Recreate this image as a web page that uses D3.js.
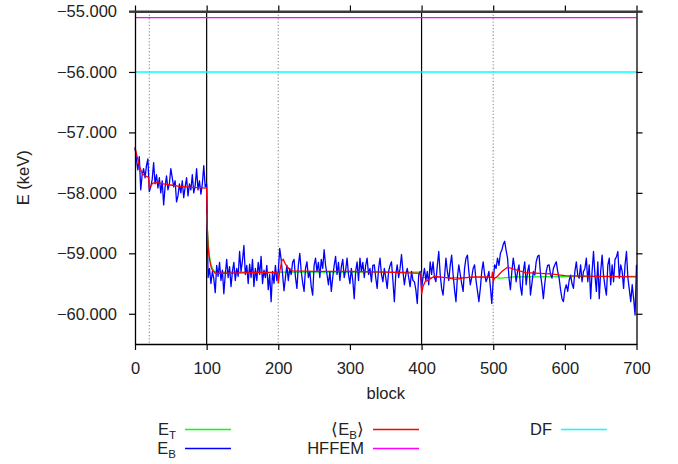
<!DOCTYPE html>
<html>
<head>
<meta charset="utf-8">
<script src="https://cdn.jsdelivr.net/npm/d3@7"></script>
<style>
body { margin: 0; background: #fff; }
text { font-family: "Liberation Sans", Arial, Helvetica, sans-serif; fill: #222; }
</style>
</head>
<body>
<svg id="chart" width="678" height="464"></svg>
<script>
// blocks are sampled every 2 for E_B
var blockStep = 2;
var blueE = [
  // 0 - 100
  -57.25, -57.45, -57.62, -57.40, -57.95, -57.70, -57.60, -57.75, -57.55, -57.44,
  -57.98, -57.90, -57.78, -57.50, -57.85, -57.70, -57.92, -57.75, -58.00, -57.80,
  -58.20, -57.90, -57.72, -57.95, -57.85, -57.60, -57.75, -57.90, -57.80, -58.15,
  -58.05, -57.85, -58.00, -57.80, -58.08, -57.90, -57.75, -58.05, -57.85, -57.95,
  -57.70, -58.00, -57.88, -57.60, -57.95, -57.80, -58.02, -57.85, -57.55, -57.90,
  -57.85,
  // 102 - 200
  -59.40, -59.25, -59.50, -59.30, -59.42, -59.65, -59.20, -59.38, -59.15, -59.45,
  -59.28, -59.67, -59.35, -59.10, -59.40, -59.22, -59.55, -59.30, -59.15, -59.45,
  -59.25, -59.38, -58.97, -59.30, -59.12, -58.87, -59.35, -59.20, -59.50, -59.18,
  -59.40, -59.10, -59.55, -59.25, -59.45, -59.15, -59.35, -59.05, -59.50, -59.28,
  -59.40, -59.20, -59.60, -59.35, -59.80, -59.30, -59.50, -59.20, -59.45, -59.30,
  // 202 - 300
  -58.92, -59.10, -59.35, -59.62, -59.40, -59.20, -59.45, -59.25, -59.35, -59.15,
  -59.10, -59.40, -59.58, -59.20, -59.00, -59.30, -59.48, -59.63, -59.25, -59.14,
  -59.40, -59.30, -59.55, -59.69, -59.20, -59.08, -59.30, -59.15, -59.40, -59.10,
  -59.25, -58.94, -59.20, -59.35, -59.52, -59.30, -59.63, -59.40, -59.20, -59.05,
  -59.35, -59.15, -59.45, -59.22, -59.10, -59.40, -59.28, -59.08, -59.35, -59.50,
  // 302 - 400
  -59.25, -59.45, -59.75, -59.30, -59.14, -59.45, -59.08, -59.30, -59.15, -59.40,
  -59.20, -59.08, -59.35, -59.25, -59.47, -59.20, -59.19, -59.40, -59.58, -59.25,
  -59.08, -59.35, -59.47, -59.25, -59.40, -59.58, -59.30, -59.20, -59.14, -59.45,
  -59.80, -59.35, -59.19, -59.40, -59.25, -59.02, -59.30, -59.52, -59.35, -59.25,
  -59.40, -59.55, -59.30, -59.45, -59.47, -59.60, -59.83, -59.36, -59.30, -59.58,
  // 402 - 500
  -59.40, -59.25, -59.45, -59.30, -59.52, -59.14, -59.35, -59.14, -59.40, -59.47,
  -59.20, -58.97, -59.35, -59.58, -59.69, -59.40, -59.08, -59.30, -59.45, -59.20,
  -59.03, -59.35, -59.60, -59.80, -59.40, -59.19, -59.35, -59.50, -59.63, -59.25,
  -59.08, -59.03, -59.30, -59.52, -59.40, -59.25, -59.19, -59.45, -59.62, -59.80,
  -59.58, -59.30, -59.14, -59.35, -59.47, -59.40, -59.30, -59.55, -59.83, -59.45,
  // 502 - 600
  -59.19, -59.25, -59.08, -59.20, -59.00, -58.95, -58.85, -58.80, -58.95, -59.08,
  -59.40, -59.60, -59.30, -59.08, -59.25, -59.47, -59.30, -59.19, -59.55, -59.69,
  -59.30, -59.14, -59.52, -59.30, -59.19, -59.69, -59.50, -59.30, -59.36, -59.14,
  -59.05, -59.03, -59.35, -59.52, -59.75, -59.50, -59.30, -59.20, -59.19, -59.35,
  -59.41, -59.25, -59.19, -59.14, -59.30, -59.41, -59.60, -59.75, -59.80, -59.60,
  // 602 - 700
  -59.52, -59.63, -59.45, -59.36, -59.50, -59.58, -59.30, -59.14, -59.36, -59.41,
  -59.19, -59.47, -59.30, -59.25, -59.08, -59.47, -59.19, -59.75, -59.30, -58.97,
  -59.36, -59.63, -59.14, -59.75, -59.30, -59.03, -59.36, -59.55, -59.69, -59.19,
  -59.08, -59.52, -59.19, -59.47, -59.10, -59.06, -58.97, -59.41, -59.19, -59.30,
  -59.58, -59.19, -58.97, -59.41, -59.60, -59.80, -59.52, -59.75, -60.02, -59.19
];

// running average <E_B>
var redBlocks = [0, 3, 6, 10, 14, 19, 20, 22, 25, 32, 40, 50, 60, 80, 100,
  101, 102, 104, 106, 108, 112, 130, 160, 199,
  200, 202, 205, 207, 210, 215, 220, 250, 300, 350, 399,
  400, 402, 405, 411, 418, 425, 439, 448, 457, 471, 494, 498,
  499, 500, 502, 506, 512, 520, 531, 545, 580, 600, 650, 700];
var redE = [-57.25, -57.40, -57.55, -57.68, -57.72, -57.74, -57.92, -57.88, -57.84, -57.83, -57.85, -57.87, -57.89, -57.91, -57.92,
  -58.60, -58.90, -59.10, -59.22, -59.28, -59.33, -59.33, -59.32, -59.32,
  -59.50, -59.30, -59.12, -59.10, -59.18, -59.26, -59.29, -59.30, -59.30, -59.31, -59.33,
  -59.68, -59.55, -59.47, -59.43, -59.38, -59.39, -59.41, -59.43, -59.41, -59.39, -59.39, -59.40,
  -59.30, -59.46, -59.41, -59.38, -59.30, -59.23, -59.27, -59.32, -59.34, -59.37, -59.38, -59.39];

// trial energy E_T
var greenBlocks = [100, 102, 104, 106, 108, 111, 115, 399, 400, 500, 510, 530, 700];
var greenE = [-58.35, -58.80, -59.05, -59.18, -59.25, -59.30, -59.31, -59.31, -59.40, -59.40, -59.41, -59.39, -59.38];

var hffemE = -55.1;
var dfE = -56.0;
var solidMarks = [100, 400];
var dottedMarks = [20, 200, 500];
var xTicks = [0, 100, 200, 300, 400, 500, 600, 700];
var yTicks = [-55, -56, -57, -58, -59, -60];

var svg = d3.select('#chart');
var pLeft = 135, pRight = 636.5, pTop = 11.5, pBottom = 344;
var fs = '16.5px';

var x = d3.scaleLinear().domain([0, 700]).range([pLeft, pRight]);
var y = d3.scaleLinear().domain([-60.5, -55]).range([pBottom, pTop]);

// vertical markers
svg.selectAll('.dotted').data(dottedMarks).enter().append('line')
    .attr('x1', d => x(d)).attr('x2', d => x(d))
    .attr('y1', pTop).attr('y2', pBottom)
    .attr('stroke', '#999').attr('stroke-width', 1.2)
    .attr('stroke-dasharray', '1.3,2');
svg.selectAll('.solid').data(solidMarks).enter().append('line')
    .attr('x1', d => x(d)).attr('x2', d => x(d))
    .attr('y1', pTop).attr('y2', pBottom)
    .attr('stroke', '#000').attr('stroke-width', 1.2);

// horizontal references
svg.append('line').attr('x1', pLeft).attr('x2', pRight)
    .attr('y1', y(hffemE)).attr('y2', y(hffemE))
    .attr('stroke', '#ff00ff').attr('stroke-width', 1.2);
svg.append('line').attr('x1', pLeft).attr('x2', pRight)
    .attr('y1', y(dfE)).attr('y2', y(dfE))
    .attr('stroke', '#00ffff').attr('stroke-width', 1.6);

var line = d3.line().x(d => x(d[0])).y(d => y(d[1]));

svg.append('path')
    .datum(greenBlocks.map((b, i) => [b, greenE[i]]))
    .attr('d', line).attr('fill', 'none')
    .attr('stroke', '#00ff00').attr('stroke-width', 1.2);

svg.append('path')
    .datum(blueE.map((v, i) => [i * blockStep, v]))
    .attr('d', line).attr('fill', 'none')
    .attr('stroke', '#0000ff').attr('stroke-width', 1.3)
    .attr('stroke-linejoin', 'round');

svg.append('path')
    .datum(redBlocks.map((b, i) => [b, redE[i]]))
    .attr('d', line).attr('fill', 'none')
    .attr('stroke', '#ff0000').attr('stroke-width', 1.3);

// axes
var fmt = d3.format('.3f');
var gl = svg.append('g').attr('transform', 'translate(' + pLeft + ',0)')
    .call(d3.axisLeft(y).tickValues(yTicks).tickFormat(fmt).tickSize(6).tickSizeOuter(0).tickPadding(12));
var gr = svg.append('g').attr('transform', 'translate(' + pRight + ',0)')
    .call(d3.axisRight(y).tickValues(yTicks).tickFormat('').tickSize(6).tickSizeOuter(0));
var gb = svg.append('g').attr('transform', 'translate(0,' + pBottom + ')')
    .call(d3.axisBottom(x).tickValues(xTicks).tickFormat(d3.format('d')).tickSize(6).tickSizeOuter(0).tickPadding(12));
var gt = svg.append('g').attr('transform', 'translate(0,' + pTop + ')')
    .call(d3.axisTop(x).tickValues(xTicks).tickFormat('').tickSize(6).tickSizeOuter(0));

[gl, gr, gb, gt].forEach(function(g){
    g.select('.domain').attr('stroke', '#000').attr('stroke-width', 1.3);
    g.selectAll('.tick line').attr('stroke', '#000').attr('stroke-width', 1.2);
    g.selectAll('text').style('font-size', fs).attr('fill', '#222')
        .style('font-family', '"Liberation Sans", Arial, sans-serif');
});
gt.select('.domain').attr('stroke', '#3a3a3a').attr('stroke-width', 2.2);

// top line extends past the frame
svg.append('line').attr('x1', pLeft - 6).attr('x2', pRight + 6)
    .attr('y1', pTop).attr('y2', pTop)
    .attr('stroke', '#3a3a3a').attr('stroke-width', 2.2);

// axis titles
svg.append('text').attr('x', (pLeft + pRight) / 2).attr('y', 399)
    .attr('text-anchor', 'middle').style('font-size', fs).text('block');
svg.append('text')
    .attr('transform', 'translate(29,' + ((pTop + pBottom) / 2) + ') rotate(-90)')
    .attr('text-anchor', 'middle').style('font-size', fs).text('E (keV)');

// legend
var legendItems = [
    {parts: [['E', 0], ['T', 1]], color: '#00ff00', tx: 176, ty: 435},
    {parts: [['E', 0], ['B', 1]], color: '#0000ff', tx: 176, ty: 454},
    {parts: [['\u27E8E', 0], ['B', 1], ['\u27E9', 2]], color: '#ff0000', tx: 364, ty: 435},
    {parts: [['HFFEM', 0]], color: '#ff00ff', tx: 364, ty: 454},
    {parts: [['DF', 0]], color: '#00ffff', tx: 552, ty: 435}
];
legendItems.forEach(function(it){
    var t = svg.append('text').attr('x', it.tx).attr('y', it.ty)
        .attr('text-anchor', 'end').style('font-size', fs);
    it.parts.forEach(function(p){
        var ts = t.append('tspan').text(p[0]);
        if (p[1] === 1) ts.attr('dy', 4).style('font-size', '11.5px');
        if (p[1] === 2) ts.attr('dy', -4);
    });
    svg.append('line').attr('x1', it.tx + 9).attr('x2', it.tx + 55)
        .attr('y1', it.ty - 5.5).attr('y2', it.ty - 5.5)
        .attr('stroke', it.color).attr('stroke-width', 1.3);
});
</script>
</body>
</html>
